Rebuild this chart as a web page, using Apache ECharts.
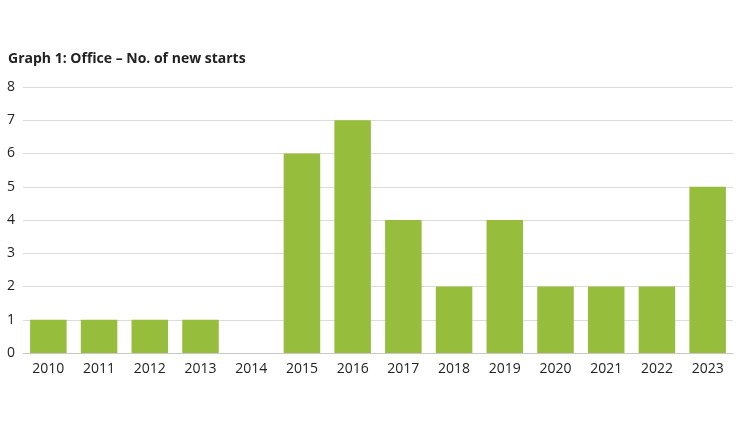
<!DOCTYPE html>
<html><head><meta charset="utf-8">
<script src="https://cdn.jsdelivr.net/npm/echarts@6/dist/echarts.min.js"></script>
<style>html,body{margin:0;padding:0;background:#fff}#c{width:744px;height:441px}</style>
</head><body><div id="c"></div>
<script>
var categories = ['2010','2011','2012','2013','2014','2015','2016','2017','2018','2019','2020','2021','2022','2023'];
var newStarts = [1,1,1,1,0,6,7,4,2,4,2,2,2,5];
var chart = echarts.init(document.getElementById('c'));
chart.setOption({
  animation: false,
  title: {text: 'Graph 1: Office \u2013 No. of new starts', left: 3, top: 47,
    textStyle: {fontFamily: 'Open Sans', fontWeight: 'bold', fontSize: 14, color: '#222'}},
  grid: {left: 23, right: 11, top: 87, bottom: 88},
  xAxis: {type: 'category', data: categories,
    axisLine: {lineStyle: {color: '#c8c8c8'}}, axisTick: {show: false},
    axisLabel: {fontFamily: 'Open Sans', fontSize: 14, color: '#222', margin: 9}},
  yAxis: {type: 'value', min: 0, max: 8, interval: 1,
    axisLine: {show: false}, axisTick: {show: false},
    axisLabel: {fontFamily: 'Open Sans', fontSize: 14, color: '#222', margin: 8},
    splitLine: {lineStyle: {color: '#dcdcdc'}}},
  series: [{type: 'bar', data: newStarts, barWidth: '72%', itemStyle: {color: '#97bd3d'}}]
});
</script></body></html>
